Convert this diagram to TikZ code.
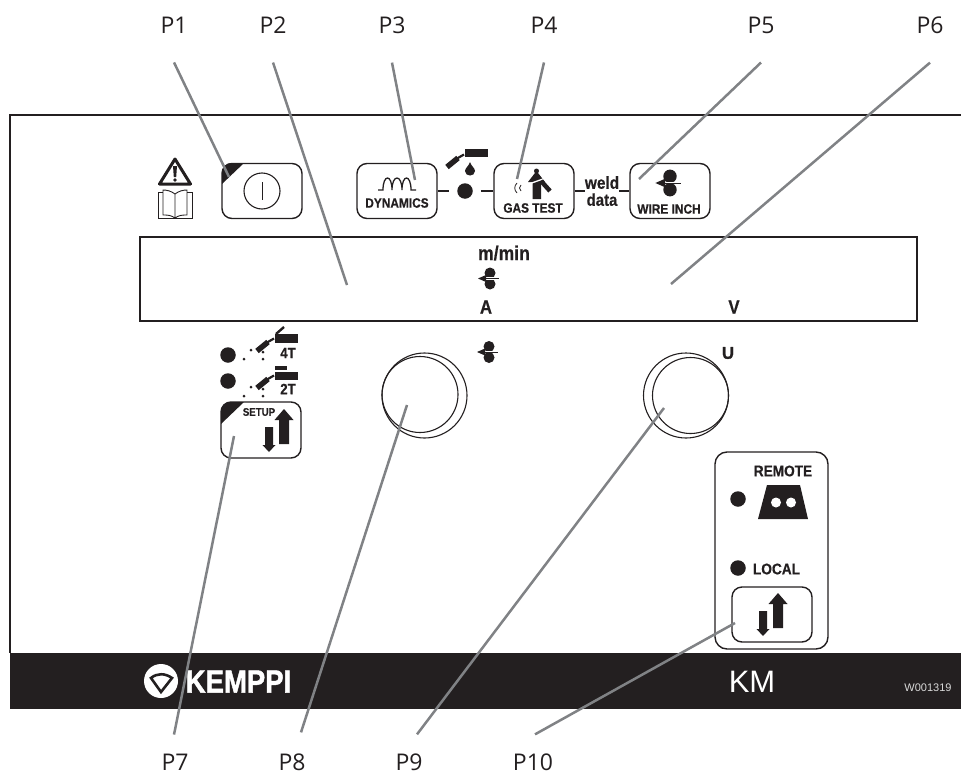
\documentclass[tikz,border=0pt]{standalone}
\usepackage{fontspec}
\setmainfont{Liberation Sans}
\newfontfamily\panelfont[FakeStretch=.88,BoldFeatures={FakeBold=.5}]{Liberation Sans}
\newfontfamily\logofont[BoldFeatures={FakeBold=1.5}]{Liberation Sans}
\newfontfamily\calloutfont{Open Sans}
\definecolor{kdark}{HTML}{231F20}
\definecolor{kgrey}{HTML}{808285}
\tikzset{
  panelbox/.style={draw=kdark, line width=1.4pt, rounded corners=10pt, minimum width=80pt, minimum height=55pt, inner sep=0pt},
  led/.style={circle, fill=kdark, inner sep=0pt, minimum size=15.5pt, outer sep=#1},
  led/.default=0pt,
  callout/.style={font=\calloutfont\fontsize{23}{23}\selectfont, text=kdark, inner sep=0pt},
  leader/.style={draw=kgrey, line width=2.5pt},
  caption/.style={font=\panelfont\bfseries\fontsize{#1}{#1}\selectfont, text=kdark, inner sep=0pt},
  feed/.pic={
    \fill[kdark] (0,-5.5) circle (5.5pt);
    \fill[kdark] (0,5.5) circle (5.5pt);
    \draw[white, line width=2.2pt] (-5,0) -- (9,0);
    \draw[kdark, line width=.9pt] (-5,0) -- (9,0);
    \fill[kdark] (-12,0) -- (-4,-3.5) -- (-4,3.5) -- cycle;
  },
  updown/.pic={
    \fill[kdark] (0,0) -- (9.5,11) -- (5,11) -- (5,35) -- (-5,35) -- (-5,11) -- (-9.5,11) -- cycle;
    \fill[kdark] (-19,18) -- (-11,18) -- (-11,36) -- (-8.5,36) -- (-15,43) -- (-21.5,36) -- (-19,36) -- cycle;
  },
  torch/.pic={
    \draw[kdark, line width=5.5pt] (-16,14) -- (-5,5);
    \draw[kdark, line width=2.2pt] (-6,5.5) -- (1,1.5);
  },
  sparks/.pic={
    \foreach \sx/\sy in {-29/22,-22/13,-10/15,-10/22}
      \fill[kdark] (\sx,\sy) circle (1.5pt);
  }
}
\begin{document}
\begin{tikzpicture}[x=1pt, y=-1pt]
  \useasboundingbox (0,0) rectangle (961,776);

  % panel outline and bottom band
  \draw[kdark, line width=1.4pt] (961,115) -- (10,115) -- (10,653);
  \fill[kdark] (10,653) rectangle (961,708.5);

  % warning sign
  \draw[kdark, line width=3pt, line join=round] (175,159) -- (190.5,184) -- (159.5,184) -- cycle;
  \fill[kdark] (173,166) -- (177,166) -- (176.2,177) -- (173.8,177) -- cycle;
  \fill[kdark] (175,180) circle (1.8pt);
  \draw[kdark, line width=.9pt] (175,194) .. controls (171,191) and (167,190) .. (163,190) -- (163,215) .. controls (167,215) and (171,215) .. (175,218) .. controls (179,215) and (183,215) .. (187,215) -- (187,190) .. controls (183,190) and (179,191) .. (175,194) -- (175,218);
  \draw[kdark, line width=.9pt] (163,192) -- (158,192) -- (158,218) -- (192,218) -- (192,192) -- (187,192);

  % top row of buttons
  \node[panelbox] (power) at (262,191) {};
  \fill[kdark] (222,184) -- (222,173) .. controls (222,167) and (226,163) .. (232,163) -- (244,163) -- cycle;
  \node[circle, draw=kdark, line width=1.1pt, minimum size=36pt, inner sep=0pt] (powerring) at (262,191) {};
  \draw[kdark, line width=1pt] (powerring.center) ++(0,-9) -- ++(0,18);

  \node[panelbox] (dynamics) at (397,191) {};
  \node[caption=13.5] (dynlabel) at (397,203) {DYNAMICS};
  \draw[kdark, line width=1.3pt] (378,190) -- (383,190) .. controls (383,174) and (392,174) .. (392,190) .. controls (392,174) and (402,174) .. (402,190) .. controls (402,174) and (411,174) .. (411,190) -- (416,190);

  \node[led=8pt] (arcdot) at (465,191) {};
  \fill[kdark] (465,149) rectangle (488,157);
  \pic at (463,153) {torch};
  \fill[kdark] (470,162) .. controls (471,166) and (475,168) .. (475,171) .. controls (475,177) and (465,177) .. (465,171) .. controls (465,168) and (469,166) .. (470,162) -- cycle;

  \node[panelbox] (gastest) at (534,191) {};
  \node[caption=13.5] (gaslabel) at (533,208) {GAS TEST};
  \fill[kdark] (536.5,171) circle (2.5pt);
  \fill[kdark] (536.5,171) -- (545,182) -- (541,182) -- (541,199) -- (532.5,199) -- (532.5,182) -- (528,182) -- cycle;
  \draw[white, line width=1.3pt] (526,185) -- (543,179);
  \draw[kdark, line width=4.5pt] (541,181) -- (550,191);
  \draw[kdark, line width=.8pt] (517,183) .. controls (514,186) and (514,190) .. (517,193);
  \draw[kdark, line width=.8pt] (521,185) .. controls (519,187) and (519,189) .. (521,191);

  \node[caption=17, align=center, outer xsep=0pt] (welddata) at (602,191) {\fontsize{17.5}{21}\selectfont weld\\data};

  \node[panelbox] (wireinch) at (670,191) {};
  \node[caption=13.5] (wirelabel) at (669,209) {WIRE INCH};
  \pic[scale=1.22] at (670,183) {feed};

  \draw[kdark, line width=1.4pt] (dynamics) -- (arcdot);
  \draw[kdark, line width=1.4pt] (arcdot) -- (gastest);
  \draw[kdark, line width=1.4pt] (gastest) -- (welddata);
  \draw[kdark, line width=1.4pt] (welddata) -- (wireinch);

  % display
  \node[draw=kdark, line width=1.4pt, minimum width=777pt, minimum height=84pt, inner sep=0pt] (display) at (528.5,279) {};
  \node[caption=20] (mmin) at (504,253) {m/min};
  \pic at (490,278.5) {feed};
  \node[caption=19] (amps) at (486,307) {A};
  \node[caption=19] (volts) at (734,307) {V};

  % mode selection
  \node[led] (fourdot) at (228,355) {};
  \node[led] (twodot) at (228,381) {};
  \draw[kdark, line width=2.4pt] (276,334) -- (284,327);
  \fill[kdark] (275,334) rectangle (298,343);
  \pic at (273,337) {torch};
  \pic at (273,337) {sparks};
  \node[caption=15] (fourt) at (288,353) {4T};
  \fill[kdark] (275,366) rectangle (287,370);
  \fill[kdark] (275,372) rectangle (298,380);
  \pic at (273,374) {torch};
  \pic at (273,374) {sparks};
  \node[caption=15] (twot) at (288,389) {2T};

  \node[panelbox, minimum height=56pt] (setup) at (261,430) {};
  \fill[kdark] (221,424) -- (221,412) .. controls (221,406) and (225,402) .. (231,402) -- (244,402) -- cycle;
  \node[caption=11] (setuplabel) at (259,412) {SETUP};
  \pic at (284,409) {updown};

  % knobs
  \node[circle, draw=kdark, line width=1.1pt, minimum size=85pt, inner sep=0pt] (wireouter) at (424.5,395.5) {};
  \node[circle, draw=kdark, line width=1.1pt, minimum size=76pt, inner sep=0pt] (wireknob) at (420,394.5) {};
  \pic at (489,352) {feed};
  \node[circle, draw=kdark, line width=1.1pt, minimum size=85pt, inner sep=0pt] (voltouter) at (686,395.5) {};
  \node[circle, draw=kdark, line width=1.1pt, minimum size=76pt, inner sep=0pt] (voltknob) at (690.5,395.5) {};
  \node[font=\logofont\bfseries\fontsize{17}{17}\selectfont, text=kdark, inner sep=0pt] (voltsign) at (728,353) {U};

  % remote and local
  \node[draw=kdark, line width=1.4pt, rounded corners=12pt, minimum width=113pt, minimum height=197pt, inner sep=0pt] (remotebox) at (771.5,550.5) {};
  \node[caption=15.5] (remote) at (783,471) {REMOTE};
  \node[led] (remotedot) at (738,499) {};
  \fill[kdark] (767,485) -- (800,485) -- (808,519) -- (758,519) -- cycle;
  \fill[white] (776,502.5) circle (5pt);
  \fill[white] (791,502.5) circle (5pt);
  \node[led] (localdot) at (738,568) {};
  \node[caption=15.5] (local) at (776.5,569) {LOCAL};
  \node[panelbox] (localbutton) at (772,614.5) {};
  \pic at (778,593) {updown};

  % band texts
  \fill[white] (161,681) circle (17pt);
  \draw[kdark, line width=2.6pt, fill=white] (151,678) .. controls (157,673) and (165,673) .. (172,678) -- (161,692) -- cycle;
  \node[font=\logofont\bfseries\fontsize{32}{32}\selectfont, text=white, inner sep=0pt] (kemppi) at (238.5,681.5) {\scalebox{.86}[1]{KEMPPI}};
  \node[font=\fontsize{31}{31}\selectfont, text=white, inner sep=0pt] (kmtype) at (752,682) {KM};
  \node[font=\fontsize{11}{11}\selectfont, text=white!85!black, inner sep=0pt] (partcode) at (928,688) {W001319};

  % callouts
  \foreach \lab/\lx in {P1/174, P2/273, P3/392, P4/544, P5/761, P6/930}
    \node[callout] (\lab) at (\lx,25) {\lab};
  \foreach \lab/\lx in {P7/175, P8/292, P9/409, P10/533}
    \node[callout] (\lab) at (\lx,762) {\lab};
  \coordinate (tipP1) at (229,177);
  \coordinate (tipP2) at (347,285);
  \coordinate (tipP3) at (415,180);
  \coordinate (tipP4) at (517,179);
  \coordinate (tipP5) at (639,179);
  \coordinate (tipP6) at (671,284);
  \coordinate (tipP7) at (234,436);
  \coordinate (tipP8) at (407,405);
  \coordinate (tipP9) at (664,408);
  \coordinate (tipP10) at (735,623);
  \foreach \lab in {P1,P2,P3,P4,P5,P6}
    \draw[leader] ([yshift=-29pt]\lab.south) -- (tip\lab);
  \draw[leader] ([xshift=-1pt,yshift=19pt]P7.north) -- (tipP7);
  \draw[leader] ([xshift=9pt,yshift=21pt]P8.north) -- (tipP8);
  \draw[leader] ([xshift=8pt,yshift=19pt]P9.north) -- (tipP9);
  \draw[leader] ([xshift=2pt,yshift=19pt]P10.north) -- (tipP10);
\end{tikzpicture}
\end{document}
